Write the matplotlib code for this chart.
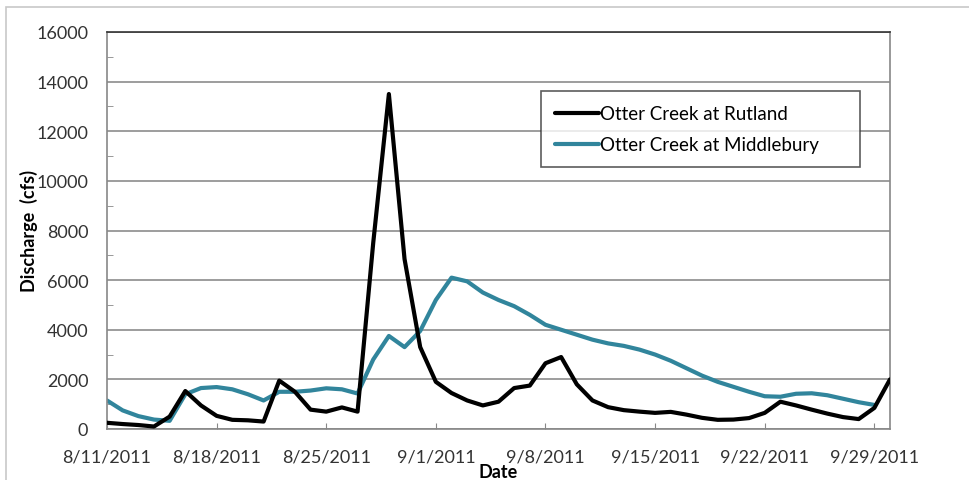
import numpy as np
import matplotlib
matplotlib.use("Agg")
import matplotlib.pyplot as plt
from matplotlib.patches import Rectangle
from matplotlib.ticker import MultipleLocator

# Daily discharge (cfs), starting 8/11/2011
START_DATE = "2011-08-11"
rutland = [250, 200, 160, 100, 500, 1530, 950, 530, 370, 350,
           300, 1950, 1500, 780, 700, 870, 700, 7500, 13500, 6850,
           3300, 1900, 1450, 1150, 950, 1100, 1650, 1750, 2650, 2900,
           1800, 1150, 880, 760, 700, 650, 690, 580, 450, 370,
           380, 440, 650, 1100, 950, 780, 620, 480, 400, 850,
           2000]
middlebury = [1150, 750, 520, 380, 330, 1400, 1650, 1690, 1600, 1400,
              1150, 1500, 1500, 1550, 1640, 1600, 1430, 2800, 3750, 3300,
              3950, 5200, 6100, 5950, 5500, 5200, 4950, 4600, 4200, 4000,
              3800, 3600, 3450, 3350, 3200, 3000, 2750, 2450, 2150, 1900,
              1700, 1500, 1320, 1300, 1420, 1440, 1360, 1220, 1080, 970]

tick_dates = ["2011-08-11", "2011-08-18", "2011-08-25", "2011-09-01",
              "2011-09-08", "2011-09-15", "2011-09-22", "2011-09-29"]
tick_labels = ["8/11/2011", "8/18/2011", "8/25/2011", "9/1/2011",
               "9/8/2011", "9/15/2011", "9/22/2011", "9/29/2011"]

start = np.datetime64(START_DATE)
dates_r = start + np.arange(len(rutland))
dates_m = start + np.arange(len(middlebury))

plt.rcParams["font.family"] = ["Lato", "DejaVu Sans"]

fig = plt.figure(figsize=(9.7, 4.81), dpi=100)
ax = fig.add_axes([107 / 970, 51 / 481, 783 / 970, 397 / 481])

# light frame around the whole chart
fig.patches.append(Rectangle((6 / 970, -0.1), 1.2, (473 / 481) + 0.1,
                             transform=fig.transFigure, fill=False,
                             edgecolor="#c8c8c8", linewidth=1.2))

ax.plot(dates_r, rutland, color="black", linewidth=3,
        solid_joinstyle="round", solid_capstyle="round",
        label="Otter Creek at Rutland", zorder=3)
ax.plot(dates_m, middlebury, color="#31859c", linewidth=3,
        solid_joinstyle="round", solid_capstyle="round",
        label="Otter Creek at Middlebury", zorder=2)

ax.set_xlim(start, start + np.timedelta64(50, "D"))
ax.set_ylim(0, 16000)
ax.set_xticks([np.datetime64(d) for d in tick_dates])
ax.set_xticklabels(tick_labels, fontsize=13, color="#333333")
ax.yaxis.set_major_locator(MultipleLocator(2000))
ax.yaxis.set_minor_locator(MultipleLocator(1000))
ax.tick_params(axis="y", which="major", length=0, pad=13.5,
               labelsize=13, labelcolor="#333333")
ax.tick_params(axis="y", which="minor", direction="in", length=4,
               color="#888888")
ax.tick_params(axis="x", direction="in", length=4, color="#888888", pad=14)

ax.grid(axis="y", which="major", color="#8c8c8c", linewidth=1.2)
ax.set_axisbelow(True)
for side in ["left", "bottom", "right"]:
    ax.spines[side].set_color("#888888")
    ax.spines[side].set_linewidth(1.2)
ax.spines["top"].set_color("#333333")
ax.spines["top"].set_linewidth(1.2)

ax.set_ylabel("Discharge  (cfs)", fontsize=13, fontweight="bold", labelpad=-1)
ax.set_xlabel("Date", fontsize=13, fontweight="bold", labelpad=-1)

leg = ax.legend(loc="upper left", bbox_to_anchor=(0.554, 0.6625, 0.4074, 0.1885),
                mode="expand", fontsize=13.5, frameon=True, fancybox=False,
                handlelength=2.35, handletextpad=0.05,
                labelspacing=0.75, borderpad=0.75, borderaxespad=0)
leg.get_frame().set_edgecolor("#333333")
leg.get_frame().set_linewidth(1.2)

fig.savefig("out.png", dpi=100)
